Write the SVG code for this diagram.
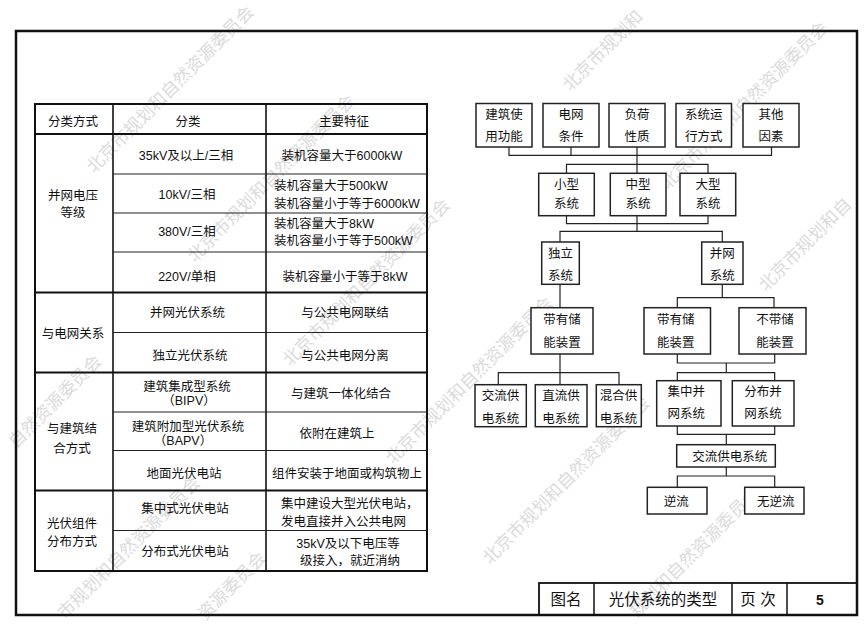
<svg xmlns="http://www.w3.org/2000/svg" width="866" height="624" viewBox="0 0 866 624">
<style>
text{font-family:"Liberation Sans","Noto Sans CJK SC",sans-serif;font-size:12.5px;fill:#111;}
.m{text-anchor:middle;}
.s{text-anchor:start;}
.tt{font-size:15.5px;text-anchor:middle;}
.wm{font-family:"Noto Sans CJK SC",sans-serif;font-size:17.5px;fill:#c4c4c4;opacity:0.6;}
.thin{stroke:#222;stroke-width:1.2;fill:none;}
.thick{stroke:#111;stroke-width:2;fill:none;}
.box{fill:#fff;stroke:#222;stroke-width:1.5;}
.con{stroke:#222;stroke-width:1.2;fill:none;}
</style>
<rect width="866" height="624" fill="#fff"/>

<g id="watermarks">
<text class="wm" transform="translate(94,174) rotate(-45)">北京市规划和自然资源委员会</text>
<text class="wm" transform="translate(195,263) rotate(-45)">北京市规划和自然资源委员会</text>
<text class="wm" transform="translate(290,367) rotate(-45)">北京市规划和自然资源委员会</text>
<text class="wm" transform="translate(570,92) rotate(-45)">北京市规划和</text>
<text class="wm" transform="translate(668,190) rotate(-45)">北京市规划和自然资源委员会</text>
<text class="wm" transform="translate(766,292) rotate(-45)">北京市规划和自</text>
<text class="wm" transform="translate(16,449) rotate(-45)">自然资源委员会</text>
<text class="wm" transform="translate(65,620) rotate(-45)">市规划和自然资源委员会</text>
<text class="wm" transform="translate(205,621) rotate(-45)">资源委员会</text>
<text class="wm" transform="translate(393,465) rotate(-45)">北京市规划和自然资源委员会</text>
<text class="wm" transform="translate(490,565) rotate(-45)">北京市规划和自然资源委员会</text>
<text class="wm" transform="translate(637,618) rotate(-45)">规划和自然资源委员会</text>
</g>

<g id="frame">
<rect x="16" y="31" width="841" height="584" fill="none" stroke="#111" stroke-width="2.5"/>
</g>

<g id="title-block">
<rect x="539" y="583" width="318" height="32" fill="none" stroke="#111" stroke-width="1.8"/>
<line x1="594" y1="583" x2="594" y2="615" stroke="#111" stroke-width="1.5"/>
<line x1="732" y1="583" x2="732" y2="615" stroke="#111" stroke-width="1.5"/>
<line x1="787" y1="583" x2="787" y2="615" stroke="#111" stroke-width="1.5"/>
<text class="tt" x="566" y="604.5">图名</text>
<text class="tt" x="663" y="604.5">光伏系统的类型</text>
<text class="tt" x="758" y="604.5">页 次</text>
<text x="820" y="604.5" style="font-size:14px;font-weight:bold;text-anchor:middle;">5</text>
</g>

<g id="table">
<rect x="35" y="104" width="392" height="467" class="thick"/>
<line x1="35" y1="134" x2="427" y2="134" class="thick"/>
<line x1="35" y1="292.5" x2="427" y2="292.5" class="thick"/>
<line x1="35" y1="372.5" x2="427" y2="372.5" class="thick"/>
<line x1="35" y1="490.5" x2="427" y2="490.5" class="thick"/>
<line x1="113" y1="104" x2="113" y2="571" stroke="#111" stroke-width="1.6"/>
<line x1="266" y1="104" x2="266" y2="571" stroke="#111" stroke-width="1.6"/>
<line x1="113" y1="174" x2="427" y2="174" class="thin"/>
<line x1="113" y1="213" x2="427" y2="213" class="thin"/>
<line x1="113" y1="252" x2="427" y2="252" class="thin"/>
<line x1="113" y1="332.5" x2="427" y2="332.5" class="thin"/>
<line x1="113" y1="412" x2="427" y2="412" class="thin"/>
<line x1="113" y1="450.5" x2="427" y2="450.5" class="thin"/>
<line x1="113" y1="530.5" x2="427" y2="530.5" class="thin"/>

<text class="m" x="73" y="126">分类方式</text>
<text class="m" x="188" y="126">分类</text>
<text class="m" x="344" y="126">主要特征</text>

<text class="m" x="73" y="199.5">并网电压</text>
<text class="m" x="73" y="216.5">等级</text>
<text class="m" x="186" y="159.5">35kV及以上/三相</text>
<text class="m" x="342" y="159.5">装机容量大于6000kW</text>
<text class="m" x="187" y="198.5">10kV/三相</text>
<text class="s" x="274" y="190.2">装机容量大于500kW</text>
<text class="s" x="274" y="207.8">装机容量小于等于6000kW</text>
<text class="m" x="187" y="236.2">380V/三相</text>
<text class="s" x="274" y="227.5">装机容量大于8kW</text>
<text class="s" x="274" y="245.2">装机容量小于等于500kW</text>
<text class="m" x="187" y="281.2">220V/单相</text>
<text class="m" x="345" y="281.2">装机容量小于等于8kW</text>

<text class="m" x="73" y="337.5">与电网关系</text>
<text class="m" x="187.5" y="317.2">并网光伏系统</text>
<text class="m" x="345" y="317.2">与公共电网联结</text>
<text class="m" x="190" y="359.5">独立光伏系统</text>
<text class="m" x="345" y="359.5">与公共电网分离</text>

<text class="m" x="72" y="432.8">与建筑结</text>
<text class="m" x="72" y="452.8">合方式</text>
<text class="m" x="187" y="391.2">建筑集成型系统</text>
<text class="m" x="189" y="404.5">（BIPV）</text>
<text class="m" x="341" y="397.5">与建筑一体化结合</text>
<text class="m" x="188" y="431.2">建筑附加型光伏系统</text>
<text class="m" x="183" y="445.2">（BAPV）</text>
<text class="m" x="337" y="437.5">依附在建筑上</text>
<text class="m" x="184" y="477.8">地面光伏电站</text>
<text class="m" x="347" y="477.8">组件安装于地面或构筑物上</text>

<text class="m" x="72" y="527.8">光伏组件</text>
<text class="m" x="72" y="546.2">分布方式</text>
<text class="m" x="185" y="512.8">集中式光伏电站</text>
<text class="s" x="281" y="507.8">集中建设大型光伏电站，</text>
<text class="s" x="281" y="526.2">发电直接并入公共电网</text>
<text class="m" x="185" y="556.2">分布式光伏电站</text>
<text class="m" x="348" y="547.8">35kV及以下电压等</text>
<text class="m" x="350" y="564.5">级接入，就近消纳</text>
</g>

<g id="connectors">
<polyline class="con" points="509,147 509,155.3 771.5,155.3 771.5,147"/>
<line class="con" x1="571" y1="147" x2="571" y2="155.3"/>
<line class="con" x1="637" y1="147" x2="637" y2="173.3"/>
<polyline class="con" points="566.5,173.3 566.5,164.3 708,164.3 708,173.3"/>
<polyline class="con" points="566.5,215.7 566.5,223.7 708,223.7 708,215.7"/>
<line class="con" x1="637" y1="215.7" x2="637" y2="231.3"/>
<polyline class="con" points="560,242 560,231.3 722.3,231.3 722.3,242"/>
<line class="con" x1="560" y1="284.3" x2="560" y2="307.7"/>
<line class="con" x1="722.3" y1="284.3" x2="722.3" y2="297.7"/>
<polyline class="con" points="677.3,307.7 677.3,297.7 774,297.7 774,307.7"/>
<line class="con" x1="560" y1="354" x2="560" y2="384.7"/>
<polyline class="con" points="498.3,384.7 498.3,372.7 619,372.7 619,384.7"/>
<polyline class="con" points="677.3,354 677.3,363 774.7,363 774.7,354"/>
<line class="con" x1="726.3" y1="363" x2="726.3" y2="372.7"/>
<polyline class="con" points="677.3,380.7 677.3,372.7 774.7,372.7 774.7,380.7"/>
<polyline class="con" points="677.3,426 677.3,434.3 774.7,434.3 774.7,426"/>
<line class="con" x1="726.3" y1="434.3" x2="726.3" y2="444.7"/>
<line class="con" x1="726.3" y1="467" x2="726.3" y2="476"/>
<polyline class="con" points="677.3,487.3 677.3,476 774.7,476 774.7,487.3"/>
</g>

<g id="n-jzsy"><rect class="box" x="476" y="103.5" width="56" height="43.5"/><text class="m" x="504" y="119">建筑使</text><text class="m" x="504" y="141.2">用功能</text></g>
<g id="n-dwtj"><rect class="box" x="543" y="103.5" width="56" height="43.5"/><text class="m" x="571" y="119">电网</text><text class="m" x="571" y="141.2">条件</text></g>
<g id="n-fhxz"><rect class="box" x="609" y="103.5" width="56" height="43.5"/><text class="m" x="637" y="119">负荷</text><text class="m" x="637" y="141.2">性质</text></g>
<g id="n-xtyx"><rect class="box" x="676" y="103.5" width="55.5" height="43.5"/><text class="m" x="703.7" y="119">系统运</text><text class="m" x="703.7" y="141.2">行方式</text></g>
<g id="n-qtys"><rect class="box" x="743" y="103.5" width="56" height="43.5"/><text class="m" x="771" y="119">其他</text><text class="m" x="771" y="141.2">因素</text></g>

<g id="n-xx"><rect class="box" x="538.7" y="173.3" width="55.6" height="42.4"/><text class="m" x="566.5" y="188.8">小型</text><text class="m" x="566.5" y="208.2">系统</text></g>
<g id="n-zx"><rect class="box" x="610.3" y="173.3" width="55.7" height="42.4"/><text class="m" x="638" y="188.8">中型</text><text class="m" x="638" y="208.2">系统</text></g>
<g id="n-dx"><rect class="box" x="680" y="173.3" width="55.7" height="42.4"/><text class="m" x="708" y="188.8">大型</text><text class="m" x="708" y="208.2">系统</text></g>

<g id="n-dlxt"><rect class="box" x="541.7" y="242" width="37.6" height="42.3"/><text class="m" x="560.5" y="257.8">独立</text><text class="m" x="560.5" y="279.8">系统</text></g>
<g id="n-bwxt"><rect class="box" x="701.7" y="242" width="41.3" height="42.3"/><text class="m" x="722.3" y="257.8">并网</text><text class="m" x="722.3" y="279.8">系统</text></g>

<g id="n-dycn1"><rect class="box" x="531" y="307.7" width="62" height="46.3"/><text class="m" x="562" y="323.8">带有储</text><text class="m" x="562" y="346.8">能装置</text></g>
<g id="n-dycn2"><rect class="box" x="644" y="307.7" width="66.5" height="46.3"/><text class="m" x="675.7" y="323.8">带有储</text><text class="m" x="675.7" y="346.8">能装置</text></g>
<g id="n-bdcn"><rect class="box" x="739" y="307.7" width="67" height="46.3"/><text class="m" x="775" y="323.8">不带储</text><text class="m" x="775" y="346.8">能装置</text></g>

<g id="n-jlgd"><rect class="box" x="475" y="384.7" width="51.3" height="42"/><text class="m" x="500.5" y="399.8">交流供</text><text class="m" x="500.5" y="422.5">电系统</text></g>
<g id="n-zlgd"><rect class="box" x="535.3" y="384.7" width="51.7" height="42"/><text class="m" x="561" y="399.8">直流供</text><text class="m" x="561" y="422.5">电系统</text></g>
<g id="n-hhgd"><rect class="box" x="596.3" y="384.7" width="45" height="42"/><text class="m" x="618.5" y="399.8">混合供</text><text class="m" x="618.5" y="422.5">电系统</text></g>

<g id="n-jzbw"><rect class="box" x="656.7" y="380.7" width="64.3" height="45.3"/><text class="m" x="686.3" y="395.8">集中并</text><text class="m" x="686.3" y="418.2">网系统</text></g>
<g id="n-fbbw"><rect class="box" x="732.3" y="380.7" width="61.7" height="45.3"/><text class="m" x="763" y="395.8">分布并</text><text class="m" x="763" y="418.2">网系统</text></g>

<g id="n-jlgdxt"><rect class="box" x="676.7" y="444.7" width="98.6" height="22.3"/><text class="m" x="729.7" y="460.5">交流供电系统</text></g>

<g id="n-nl"><rect class="box" x="647.3" y="487.3" width="59.7" height="26.7"/><text class="m" x="676.3" y="505.5">逆流</text></g>
<g id="n-wnl"><rect class="box" x="744.7" y="487.3" width="59.3" height="26.7"/><text class="m" x="775.7" y="505.5">无逆流</text></g>
</svg>
